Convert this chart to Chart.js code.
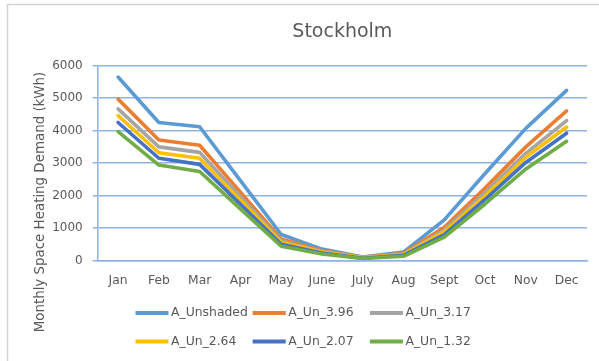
<!DOCTYPE html>
<html>
<head>
<meta charset="utf-8">
<script src="https://cdn.jsdelivr.net/npm/chart.js@4/dist/chart.umd.min.js"></script>
<style>
  html, body { margin: 0; padding: 0; background: #fff; }
  #wrap { width: 599px; height: 361px; position: relative; }
</style>
</head>
<body>
<div id="wrap"><canvas id="heatChart" width="599" height="361"></canvas></div>
<script>
// Monthly space heating demand, Stockholm (kWh)
const months = ['Jan', 'Feb', 'Mar', 'Apr', 'May', 'June', 'July', 'Aug', 'Sept', 'Oct', 'Nov', 'Dec'];
const yTicks = [0, 1000, 2000, 3000, 4000, 5000, 6000];

const seriesNames = ['A_Unshaded', 'A_Un_3.96', 'A_Un_3.17', 'A_Un_2.64', 'A_Un_2.07', 'A_Un_1.32'];
const unshaded = [5650, 4250, 4120, 2460, 800, 350, 110, 260, 1250, 2680, 4070, 5240];
const un396    = [4970, 3710, 3550, 2105, 660, 300, 100, 220, 1020, 2230, 3500, 4610];
const un317    = [4670, 3500, 3330, 1965, 600, 280,  90, 200,  940, 2100, 3300, 4310];
const un264    = [4460, 3320, 3150, 1855, 560, 260,  80, 180,  880, 1990, 3180, 4110];
const un207    = [4250, 3150, 2960, 1730, 500, 230,  70, 160,  800, 1880, 3020, 3920];
const un132    = [3970, 2940, 2740, 1590, 440, 200,  60, 130,  720, 1740, 2820, 3670];

const seriesData = [unshaded, un396, un317, un264, un207, un132];
const seriesColors = ['#5B9BD5', '#ED7D31', '#A5A5A5', '#FFC000', '#4472C4', '#70AD47'];

const FONT = 'DejaVu Sans';
const TEXT = '#595959';
const GRID = '#8EB4E3';

// y axis title, legend and chart frame
const decorPlugin = {
    id: 'decor',
    beforeDraw(chart) {
        const ctx = chart.ctx;
        ctx.save();
        ctx.strokeStyle = '#D4D4D4';
        ctx.lineWidth = 1.5;
        ctx.strokeRect(7.5, 4.5, 620, 400);
        ctx.restore();
    },
    afterDraw(chart) {
        const ctx = chart.ctx;
        ctx.save();

        // rotated axis title
        ctx.fillStyle = TEXT;
        ctx.font = `13.4px "${FONT}"`;
        ctx.textAlign = 'center';
        ctx.textBaseline = 'middle';
        ctx.translate(40.5, 202);
        ctx.rotate(-Math.PI / 2);
        ctx.fillText('Monthly Space Heating Demand (kWh)', 0, 0);
        ctx.setTransform(1, 0, 0, 1, 0, 0);

        // legend, 3 columns x 2 rows
        const colW = 117.2;
        const lineLen = 33;
        const x0 = chart.width / 2 - 164;
        const rows = [313, 341.5];
        ctx.font = `12.4px "${FONT}"`;
        ctx.textAlign = 'left';
        chart.data.datasets.forEach((ds, i) => {
            const x = x0 + (i % 3) * colW;
            const y = rows[Math.floor(i / 3)];
            ctx.strokeStyle = ds.borderColor;
            ctx.lineWidth = 4;
            ctx.lineCap = 'butt';
            ctx.beginPath();
            ctx.moveTo(x, y);
            ctx.lineTo(x + lineLen, y);
            ctx.stroke();
            ctx.fillStyle = TEXT;
            ctx.fillText(ds.label, x + lineLen + 2.5, y);
        });
        ctx.restore();
    }
};

const ctx = document.getElementById('heatChart').getContext('2d');
new Chart(ctx, {
    type: 'line',
    data: {
        labels: months,
        datasets: seriesNames.map((name, i) => ({
            label: name,
            data: seriesData[i],
            borderColor: seriesColors[i],
            backgroundColor: seriesColors[i],
            borderWidth: 3.6,
            borderCapStyle: 'round',
            borderJoinStyle: 'round',
            pointRadius: 0,
            tension: 0,
            fill: false,
            order: seriesNames.length - i   // later series on top
        }))
    },
    options: {
        responsive: false,
        animation: false,
        devicePixelRatio: 1,
        layout: { padding: { left: 0, right: 12, top: 0, bottom: 70 } },
        scales: {
            x: {
                offset: true,
                grid: { display: false, drawTicks: false },
                border: { display: true, color: GRID, width: 1.5 },
                ticks: {
                    color: TEXT,
                    font: { family: FONT, size: 12.3 },
                    padding: 12.8,
                    maxRotation: 0,
                    autoSkip: false
                },
                afterFit(scale) { scale.height = 30.5; }
            },
            y: {
                min: yTicks[0],
                max: yTicks[yTicks.length - 1],
                afterBuildTicks(scale) { scale.ticks = yTicks.map(v => ({ value: v })); },
                grid: { color: GRID, lineWidth: 1.5, drawTicks: true, tickLength: 5 },
                border: { display: true, color: GRID, width: 1.5 },
                ticks: {
                    color: TEXT,
                    font: { family: FONT, size: 12 },
                    padding: 10,
                    callback: v => String(v)
                },
                afterFit(scale) { scale.width = 97.7; }
            }
        },
        plugins: {
            legend: { display: false },
            tooltip: { enabled: false },
            title: {
                display: true,
                text: 'Stockholm',
                fullSize: false,
                color: TEXT,
                font: { family: FONT, size: 19, weight: 'normal' },
                padding: { top: 20.6, bottom: 22.3 }
            }
        }
    },
    plugins: [decorPlugin]
});
</script>
</body>
</html>
